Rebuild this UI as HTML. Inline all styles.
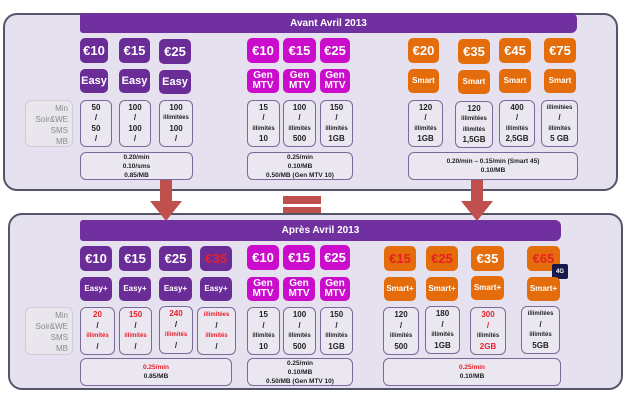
<!DOCTYPE html>
<html><head><meta charset="utf-8"><style>
*{margin:0;padding:0;box-sizing:border-box}
body{width:640px;height:402px;background:#fff;position:relative;overflow:hidden;font-family:"Liberation Sans",sans-serif;font-weight:bold}
div{position:absolute}
.panel{background:#e6e1ee;border:2px solid #55556a;border-radius:14px}
.hdr{background:#7030a0;color:#fff;font-size:10px;text-align:center;line-height:21px;border-radius:3px 6px 6px 3px}
.t{border-radius:5px;color:#fff;display:flex;align-items:center;justify-content:center;text-align:center;line-height:1}
.p{background:#6a2c96}.m{background:#cc0ccc}.o{background:#e46c0a}
.pr{font-size:13px}.nm{font-size:11px}.g{font-size:10px;line-height:10px}.sm{font-size:8px}
.d{border:1.3px solid #7a6a9c;border-radius:6px;background:#ebe7f0;font-size:8px;color:#222;text-align:center;display:flex;flex-direction:column;justify-content:space-evenly;padding:2px 0}
.d span{display:block;line-height:10px;position:static}
.d .s{font-size:6px}
.lab{border:1px solid #d0ccd8;border-radius:6px;background:#e9e6ee;color:#8a8a8a;font-weight:normal;font-size:8px;text-align:right;line-height:11px;padding:2px 4px 0 0}
.b{border:1.3px solid #7a6a9c;border-radius:6px;background:#ebe7f0;font-size:6.5px;color:#222;text-align:center;line-height:9px;display:flex;flex-direction:column;justify-content:center}
.r{color:#e8202a}
.arr{background:#c0504d}
</style></head><body>
<div class="panel" style="left:3px;top:13px;width:615px;height:178px"></div>
<div class="hdr" style="left:80px;top:13px;width:497px;height:20px">Avant Avril 2013</div>
<div class="t p pr" style="left:80px;top:38px;width:28px;height:25px">€10</div>
<div class="t p pr" style="left:119px;top:38px;width:31px;height:25px">€15</div>
<div class="t p pr" style="left:159px;top:39px;width:32px;height:25px">€25</div>
<div class="t m pr" style="left:247px;top:38px;width:32px;height:25px">€10</div>
<div class="t m pr" style="left:283px;top:38px;width:33px;height:25px">€15</div>
<div class="t m pr" style="left:320px;top:38px;width:30px;height:25px">€25</div>
<div class="t o pr" style="left:408px;top:38px;width:31px;height:25px">€20</div>
<div class="t o pr" style="left:458px;top:39px;width:32px;height:25px">€35</div>
<div class="t o pr" style="left:499px;top:38px;width:32px;height:25px">€45</div>
<div class="t o pr" style="left:544px;top:38px;width:32px;height:25px">€75</div>
<div class="t p nm" style="left:80px;top:69px;width:28px;height:24px">Easy</div>
<div class="t p nm" style="left:119px;top:69px;width:31px;height:24px">Easy</div>
<div class="t p nm" style="left:159px;top:70px;width:32px;height:24px">Easy</div>
<div class="t m g" style="left:247px;top:69px;width:32px;height:24px">Gen<br>MTV</div>
<div class="t m g" style="left:283px;top:69px;width:33px;height:24px">Gen<br>MTV</div>
<div class="t m g" style="left:320px;top:69px;width:30px;height:24px">Gen<br>MTV</div>
<div class="t o sm" style="left:408px;top:69px;width:31px;height:24px">Smart</div>
<div class="t o sm" style="left:458px;top:70px;width:32px;height:24px">Smart</div>
<div class="t o sm" style="left:499px;top:69px;width:32px;height:24px">Smart</div>
<div class="t o sm" style="left:544px;top:69px;width:32px;height:24px">Smart</div>
<div class="lab" style="left:25px;top:100px;width:48px;height:47px">Min<br>Soir&amp;WE<br>SMS<br>MB</div>
<div class="d" style="left:80px;top:100px;width:32px;height:47px"><span>50</span><span>/</span><span>50</span><span>/</span></div>
<div class="d" style="left:119px;top:100px;width:32px;height:47px"><span>100</span><span>/</span><span>100</span><span>/</span></div>
<div class="d" style="left:159px;top:100px;width:34px;height:47px"><span>100</span><span class="s">illimitées</span><span>100</span><span>/</span></div>
<div class="d" style="left:247px;top:100px;width:33px;height:47px"><span>15</span><span>/</span><span class="s">illimités</span><span>10</span></div>
<div class="d" style="left:283px;top:100px;width:33px;height:47px"><span>100</span><span>/</span><span class="s">illimités</span><span>500</span></div>
<div class="d" style="left:320px;top:100px;width:33px;height:47px"><span>150</span><span>/</span><span class="s">illimités</span><span>1GB</span></div>
<div class="d" style="left:408px;top:100px;width:35px;height:47px"><span>120</span><span>/</span><span class="s">illimités</span><span>1GB</span></div>
<div class="d" style="left:455px;top:101px;width:38px;height:47px"><span>120</span><span class="s">illimitées</span><span class="s">illimités</span><span>1,5GB</span></div>
<div class="d" style="left:499px;top:100px;width:36px;height:47px"><span>400</span><span>/</span><span class="s">illimités</span><span>2,5GB</span></div>
<div class="d" style="left:541px;top:100px;width:37px;height:47px"><span class="s">illimitées</span><span>/</span><span class="s">illimités</span><span>5 GB</span></div>
<div class="b" style="left:80px;top:152px;width:113px;height:28px">0.20/min<br>0.10/sms<br>0.85/MB</div>
<div class="b" style="left:247px;top:152px;width:106px;height:28px">0.25/min<br>0.10/MB<br>0.50/MB (Gen MTV 10)</div>
<div class="b" style="left:408px;top:152px;width:170px;height:28px">0.20/min – 0.15/min (Smart 45)<br>0.10/MB</div>
<div class="arr" style="left:160px;top:180px;width:12px;height:22px"></div>
<div class="arr" style="left:471px;top:180px;width:12px;height:22px"></div>
<div class="arr" style="left:283px;top:196px;width:38px;height:8px"></div>
<div class="arr" style="left:283px;top:207px;width:38px;height:8px"></div>
<div class="panel" style="left:8px;top:213px;width:615px;height:177px"></div>
<div style="left:150px;top:201px;width:0;height:0;border-left:16px solid transparent;border-right:16px solid transparent;border-top:20px solid #c0504d"></div>
<div style="left:461px;top:201px;width:0;height:0;border-left:16px solid transparent;border-right:16px solid transparent;border-top:20px solid #c0504d"></div>
<div class="hdr" style="left:80px;top:220px;width:481px;height:21px">Après Avril 2013</div>
<div class="t p pr" style="left:80px;top:246px;width:32px;height:25px">€10</div>
<div class="t p pr" style="left:119px;top:246px;width:32px;height:25px">€15</div>
<div class="t p pr" style="left:159px;top:246px;width:33px;height:25px">€25</div>
<div class="t p pr" style="left:200px;top:246px;width:32px;height:25px;color:#e8202a">€35</div>
<div class="t m pr" style="left:247px;top:245px;width:32px;height:25px">€10</div>
<div class="t m pr" style="left:283px;top:245px;width:32px;height:25px">€15</div>
<div class="t m pr" style="left:320px;top:245px;width:30px;height:25px">€25</div>
<div class="t o pr" style="left:384px;top:246px;width:32px;height:25px;color:#e8202a">€15</div>
<div class="t o pr" style="left:426px;top:246px;width:32px;height:25px;color:#e8202a">€25</div>
<div class="t o pr" style="left:471px;top:246px;width:33px;height:25px">€35</div>
<div class="t o pr" style="left:527px;top:246px;width:33px;height:25px;color:#e8202a">€65</div>
<div class="t" style="left:552px;top:264px;width:16px;height:15px;background:#1a1a4a;font-size:6px;border-radius:2px">4G</div>
<div class="t p sm" style="left:80px;top:277px;width:32px;height:24px">Easy+</div>
<div class="t p sm" style="left:119px;top:277px;width:32px;height:24px">Easy+</div>
<div class="t p sm" style="left:159px;top:277px;width:33px;height:24px">Easy+</div>
<div class="t p sm" style="left:200px;top:277px;width:32px;height:24px">Easy+</div>
<div class="t m g" style="left:247px;top:277px;width:32px;height:24px">Gen<br>MTV</div>
<div class="t m g" style="left:283px;top:277px;width:32px;height:24px">Gen<br>MTV</div>
<div class="t m g" style="left:320px;top:277px;width:30px;height:24px">Gen<br>MTV</div>
<div class="t o sm" style="left:384px;top:277px;width:32px;height:24px">Smart+</div>
<div class="t o sm" style="left:426px;top:277px;width:32px;height:24px">Smart+</div>
<div class="t o sm" style="left:471px;top:276px;width:33px;height:24px">Smart+</div>
<div class="t o sm" style="left:527px;top:277px;width:33px;height:24px">Smart+</div>
<div class="lab" style="left:25px;top:307px;width:48px;height:48px">Min<br>Soir&amp;WE<br>SMS<br>MB</div>
<div class="d" style="left:80px;top:307px;width:35px;height:48px"><span class="r">20</span><span>/</span><span class="s r">illimités</span><span>/</span></div>
<div class="d" style="left:119px;top:307px;width:33px;height:48px"><span class="r">150</span><span>/</span><span class="s r">illimités</span><span>/</span></div>
<div class="d" style="left:159px;top:306px;width:34px;height:48px"><span class="r">240</span><span>/</span><span class="s r">illimités</span><span>/</span></div>
<div class="d" style="left:197px;top:307px;width:39px;height:48px"><span class="s r">illimitées</span><span>/</span><span class="s r">illimités</span><span>/</span></div>
<div class="d" style="left:247px;top:307px;width:33px;height:48px"><span>15</span><span>/</span><span class="s">illimités</span><span>10</span></div>
<div class="d" style="left:283px;top:307px;width:33px;height:48px"><span>100</span><span>/</span><span class="s">illimités</span><span>500</span></div>
<div class="d" style="left:320px;top:307px;width:33px;height:48px"><span>150</span><span>/</span><span class="s">illimités</span><span>1GB</span></div>
<div class="d" style="left:383px;top:307px;width:36px;height:48px"><span>120</span><span>/</span><span class="s">illimités</span><span>500</span></div>
<div class="d" style="left:425px;top:306px;width:35px;height:48px"><span>180</span><span>/</span><span class="s">illimités</span><span>1GB</span></div>
<div class="d" style="left:470px;top:307px;width:36px;height:48px"><span class="r">300</span><span class="r">/</span><span class="s">illimités</span><span class="r">2GB</span></div>
<div class="d" style="left:521px;top:306px;width:39px;height:48px"><span class="s">illimitées</span><span>/</span><span class="s">illimités</span><span>5GB</span></div>
<div class="b" style="left:80px;top:358px;width:152px;height:28px"><span class="r" style="position:static">0.25/min</span>0.85/MB</div>
<div class="b" style="left:247px;top:358px;width:106px;height:28px">0.25/min<br>0.10/MB<br>0.50/MB (Gen MTV 10)</div>
<div class="b" style="left:383px;top:358px;width:178px;height:28px"><span class="r" style="position:static">0.25/min</span>0.10/MB</div>
</body></html>
